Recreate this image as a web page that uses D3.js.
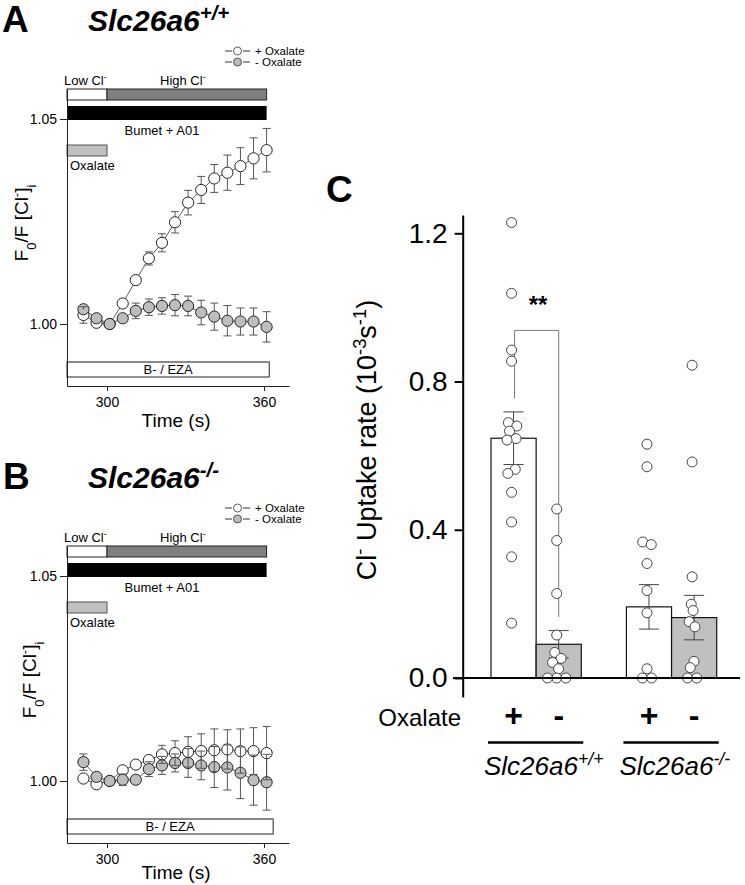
<!DOCTYPE html>
<html>
<head>
<meta charset="utf-8">
<script src="https://cdn.jsdelivr.net/npm/d3@7"></script>
<style>
  body { margin: 0; background: #fff; }
  svg { font-family: Arial, "Liberation Sans", sans-serif; }
</style>
</head>
<body>
<svg id="fig" width="745" height="885"></svg>
<script>
// ---- data: time courses (A, B) ----
const times = [291, 296, 301, 306, 311, 316, 321, 326, 331, 336, 341, 346, 351, 356, 361];
const timeTicks = [300, 360];
const ratioTicks = [1.00, 1.05];

const wtPlusMean  = [1.0022, 1.0003, 1.0000, 1.0050, 1.0107, 1.0160, 1.0198, 1.0248, 1.0296, 1.0327, 1.0355, 1.0369, 1.0385, 1.0404, 1.0424];
const wtPlusSem   = [0.0020, 0.0012, 0.0006, 0.0010, 0.0010, 0.0016, 0.0022, 0.0026, 0.0030, 0.0033, 0.0034, 0.0043, 0.0045, 0.0050, 0.0053];
const wtMinusMean = [1.0036, 1.0014, 1.0000, 1.0014, 1.0032, 1.0041, 1.0044, 1.0046, 1.0044, 1.0028, 1.0018, 1.0008, 1.0006, 1.0006, 0.9993];
const wtMinusSem  = [0.0012, 0.0012, 0.0004, 0.0010, 0.0019, 0.0020, 0.0020, 0.0026, 0.0024, 0.0030, 0.0033, 0.0037, 0.0033, 0.0033, 0.0037];

const koPlusMean  = [1.0006, 0.9992, 1.0000, 1.0026, 1.0040, 1.0051, 1.0065, 1.0068, 1.0071, 1.0073, 1.0075, 1.0077, 1.0073, 1.0073, 1.0068];
const koPlusSem   = [0.0008, 0.0008, 0.0004, 0.0012, 0.0008, 0.0011, 0.0022, 0.0030, 0.0037, 0.0042, 0.0052, 0.0048, 0.0054, 0.0057, 0.0065];
const koMinusMean = [1.0046, 1.0010, 1.0000, 1.0003, 1.0003, 1.0029, 1.0038, 1.0044, 1.0044, 1.0038, 1.0034, 1.0033, 1.0020, 1.0002, 0.9997];
const koMinusSem  = [0.0020, 0.0012, 0.0004, 0.0014, 0.0008, 0.0018, 0.0022, 0.0022, 0.0035, 0.0035, 0.0050, 0.0055, 0.0063, 0.0061, 0.0068];

// ---- data: uptake rates (C) ----
const genotypes = ["+/+", "-/-"];
const oxalateConds = ["+", "-"];
const rateTicks = [0, 0.4, 0.8, 1.2];
const barMeans = [0.647, 0.091, 0.192, 0.163];
const barSems  = [0.071, 0.037, 0.060, 0.060];
const wtOxPts   = [1.229, 1.038, 0.885, 0.855, 0.689, 0.680, 0.666, 0.646, 0.642, 0.563, 0.552, 0.501, 0.421, 0.327, 0.148];
const wtNoOxPts = [0.456, 0.371, 0.228, 0.116, 0.069, 0.053, 0.042, 0.025, 0, 0, 0];
const koOxPts   = [0.631, 0.570, 0.367, 0.360, 0.309, 0.236, 0.176, 0.025, 0, 0];
const koNoOxPts = [0.844, 0.583, 0.273, 0.199, 0.182, 0.152, 0.138, 0.045, 0.028, 0, 0];

const svg = d3.select("#fig");

// text with sub/superscripts
function rich(sel, parts, size) {
	parts.forEach(p => {
		const ts = sel.append("tspan").text(p.t);
		if (p.sup) ts.attr("font-size", size * 0.68).attr("baseline-shift", "super");
		if (p.sub) ts.attr("font-size", size * 0.68).attr("baseline-shift", "sub");
	});
	return sel;
}

function drawTrace(cfg) {
	const g = svg.append("g").attr("transform", `translate(0,${cfg.dy})`);

	const x = d3.scaleLinear().domain([300, 360]).range([107, 264]);
	x.domain([x.invert(67), x.invert(289)]).range([67, 289]);
	const y = d3.scaleLinear().domain([1.00, 1.05]).range([324, 119]);
	y.domain([y.invert(386), y.invert(89)]).range([386, 89]);
	const x0 = x.domain()[0];

	// panel letter + title
	g.append("text").attr("x", cfg.letterX).attr("y", 32).attr("font-size", 37)
		.attr("font-weight", "bold").text(cfg.letter);
	rich(g.append("text").attr("x", 88).attr("y", 31).attr("font-size", 30)
		.attr("font-weight", "bold").attr("font-style", "italic"),
		[{t: "Slc26a6"}, {t: cfg.geno, sup: true}], 30);

	// legend
	const legend = [{label: "+ Oxalate", fill: "#fff"}, {label: "- Oxalate", fill: "#bdbdbd"}];
	legend.forEach((l, i) => {
		const ly = 51 + i * 11;
		g.append("line").attr("x1", 225).attr("x2", 232).attr("y1", ly).attr("y2", ly).attr("stroke", "#333");
		g.append("line").attr("x1", 243).attr("x2", 250).attr("y1", ly).attr("y2", ly).attr("stroke", "#333");
		g.append("circle").attr("cx", 237.5).attr("cy", ly).attr("r", 4)
			.attr("fill", l.fill).attr("stroke", "#333").attr("stroke-width", 0.8);
		g.append("text").attr("x", 255).attr("y", ly).attr("dy", "0.36em")
			.attr("font-size", 11.5).text(l.label);
	});

	// solution bars
	const barTxt = 13;
	rich(g.append("text").attr("x", x(x0) - 3).attr("y", 85).attr("font-size", barTxt),
		[{t: "Low Cl"}, {t: "-", sup: true}], barTxt);
	rich(g.append("text").attr("x", 160).attr("y", 85).attr("font-size", barTxt),
		[{t: "High Cl"}, {t: "-", sup: true}], barTxt);
	g.append("rect").attr("x", x(x0)).attr("y", 89).attr("width", x(300) - x(x0)).attr("height", 11)
		.attr("fill", "#fff").attr("stroke", "#222");
	g.append("rect").attr("x", x(300)).attr("y", 89).attr("width", x(361) - x(300)).attr("height", 11)
		.attr("fill", "#7f7f7f").attr("stroke", "#222");
	g.append("rect").attr("x", x(x0)).attr("y", 106).attr("width", x(361) - x(x0)).attr("height", 14)
		.attr("fill", "#000");
	g.append("text").attr("x", 162).attr("y", 135).attr("text-anchor", "middle")
		.attr("font-size", barTxt).text("Bumet + A01");
	g.append("rect").attr("x", x(x0)).attr("y", 145).attr("width", x(300) - x(x0)).attr("height", 11)
		.attr("fill", "#c0c0c0").attr("stroke", "#555");
	g.append("text").attr("x", x(x0) + 3).attr("y", 170).attr("font-size", barTxt).text("Oxalate");
	g.append("rect").attr("x", x(x0)).attr("y", 362).attr("width", x(cfg.ezaEnd) - x(x0)).attr("height", 15)
		.attr("fill", "#fff").attr("stroke", "#222");
	g.append("line").attr("x1", x(x0)).attr("x2", x(cfg.ezaEnd)).attr("y1", 362).attr("y2", 362)
		.attr("stroke", "#888").attr("stroke-width", 2);
	g.append("text").attr("x", (x(x0) + x(cfg.ezaEnd)) / 2).attr("y", 374).attr("text-anchor", "middle")
		.attr("font-size", barTxt).text("B- / EZA");

	// axes
	const yAxis = g.append("g").attr("transform", "translate(67,0)")
		.call(d3.axisLeft(y).tickValues(ratioTicks).tickFormat(d3.format(".2f")).tickSize(7).tickSizeOuter(0).tickPadding(3));
	const xAxis = g.append("g").attr("transform", "translate(0,386)")
		.call(d3.axisBottom(x).tickValues(timeTicks).tickSize(5).tickSizeOuter(0).tickPadding(6));
	[yAxis, xAxis].forEach(a => {
		a.selectAll("text").attr("font-size", 14).attr("font-family", null).attr("fill", "#000");
		a.selectAll("path, line").attr("stroke", "#222");
	});

	g.append("text").attr("x", 176).attr("y", cfg.timeY).attr("text-anchor", "middle")
		.attr("font-size", 19).text("Time (s)");
	rich(g.append("text").attr("transform", `translate(${cfg.yLabX},223) rotate(-90)`)
		.attr("text-anchor", "middle").attr("font-size", 19),
		[{t: "F"}, {t: "0", sub: true}, {t: "/F [Cl"}, {t: "-", sup: true}, {t: "]"}, {t: "i", sub: true}], 19);

	// series
	const r = 5.6;
	const series = [
		{mean: cfg.plus, sem: cfg.plusSem, fill: "#fff"},
		{mean: cfg.minus, sem: cfg.minusSem, fill: "#bdbdbd"}
	];
	const line = d3.line().x((d, i) => x(times[i])).y(d => y(d));
	series.forEach(s => {
		g.append("path").datum(s.mean).attr("d", line)
			.attr("fill", "none").attr("stroke", "#333").attr("stroke-width", 0.8);
		g.selectAll(null).data(s.mean).enter().append("circle")
			.attr("cx", (d, i) => x(times[i])).attr("cy", d => y(d)).attr("r", r)
			.attr("fill", s.fill).attr("stroke", "#222").attr("stroke-width", 1);
	});
	// error bars on top, starting from marker edge
	series.forEach(s => {
		s.mean.forEach((m, i) => {
			const cx = x(times[i]);
			const dpx = y(m) - y(m + s.sem[i]);
			if (dpx <= r) return;
			[-1, 1].forEach(sgn => {
				const ye = y(m) + sgn * dpx;
				g.append("line").attr("x1", cx).attr("x2", cx)
					.attr("y1", y(m) + sgn * r).attr("y2", ye).attr("stroke", "#555");
				g.append("line").attr("x1", cx - 4).attr("x2", cx + 4)
					.attr("y1", ye).attr("y2", ye).attr("stroke", "#555");
			});
		});
	});
}

drawTrace({dy: 0, letter: "A", letterX: 2, geno: "+/+", ezaEnd: 362, timeY: 427, yLabX: 28,
	plus: wtPlusMean, plusSem: wtPlusSem, minus: wtMinusMean, minusSem: wtMinusSem});
drawTrace({dy: 457, letter: "B", letterX: 3, geno: "-/-", ezaEnd: 363.5, timeY: 422, yLabX: 36,
	plus: koPlusMean, plusSem: koPlusSem, minus: koMinusMean, minusSem: koMinusSem});

// ---- panel C ----
const c = svg.append("g");
const yC = d3.scaleLinear().domain([0, 1.2]).range([678, 233.3]);
yC.domain([yC.invert(697), yC.invert(215)]).range([697, 215]);
const xGroup = d3.scaleBand().domain(genotypes).range([491, 716.7]).paddingInner(1 / 3);
const xCond = d3.scaleBand().domain(oxalateConds).range([0, xGroup.bandwidth()]);
const bars = barMeans.map((m, i) => ({
	geno: genotypes[Math.floor(i / 2)], cond: oxalateConds[i % 2], mean: m, sem: barSems[i],
	pts: [wtOxPts, wtNoOxPts, koOxPts, koNoOxPts][i]
}));
const barX = b => xGroup(b.geno) + xCond(b.cond);
const barCx = b => barX(b) + xCond.bandwidth() / 2;

c.append("text").attr("x", 326).attr("y", 202).attr("font-size", 37).attr("font-weight", "bold").text("C");

c.selectAll(null).data(bars).enter().append("rect")
	.attr("x", barX).attr("width", xCond.bandwidth())
	.attr("y", b => yC(b.mean)).attr("height", b => yC(0) - yC(b.mean))
	.attr("fill", b => b.cond === "+" ? "#fff" : "#c0c0c0")
	.attr("stroke", "#111").attr("stroke-width", 1.2);

// significance bracket
const sig = {y: 0.938, left: 0.755, right: 0.165};
c.append("path")
	.attr("d", `M${barCx(bars[0]) + 1},${yC(sig.left)}V${yC(sig.y)}H${barCx(bars[1])}V${yC(sig.right)}`)
	.attr("fill", "none").attr("stroke", "#777").attr("stroke-width", 1);
c.append("text").attr("x", 538).attr("y", 313).attr("text-anchor", "middle")
	.attr("font-size", 24).attr("font-weight", "bold").text("**");

// error bars
bars.forEach(b => {
	const cx = barCx(b);
	c.append("line").attr("x1", cx).attr("x2", cx)
		.attr("y1", yC(b.mean - b.sem)).attr("y2", yC(b.mean + b.sem)).attr("stroke", "#444");
	[b.mean - b.sem, b.mean + b.sem].forEach(v => {
		c.append("line").attr("x1", cx - 10).attr("x2", cx + 10)
			.attr("y1", yC(v)).attr("y2", yC(v)).attr("stroke", "#444");
	});
});

// individual points, spread with a small collide force
bars.forEach(b => {
	const cx = barCx(b) - 2;
	const nodes = b.pts.map(v => ({v, x: cx, y: yC(v)}));
	const sim = d3.forceSimulation(nodes)
		.force("x", d3.forceX(cx).strength(0.25))
		.force("y", d3.forceY(d => yC(d.v)).strength(1))
		.force("collide", d3.forceCollide(4.6))
		.stop();
	for (let i = 0; i < 200; i++) sim.tick();
	c.selectAll(null).data(nodes).enter().append("circle")
		.attr("cx", d => d.x).attr("cy", d => yC(d.v)).attr("r", 5)
		.attr("fill", "#fff").attr("stroke", "#444").attr("stroke-width", 1);
});

// axes
c.append("line").attr("x1", 453).attr("x2", 740).attr("y1", yC(0)).attr("y2", yC(0))
	.attr("stroke", "#000").attr("stroke-width", 2);
const yAxisC = c.append("g").attr("transform", "translate(462.7,0)")
	.call(d3.axisLeft(yC).tickValues(rateTicks).tickFormat(d3.format(".1f")).tickSize(8).tickSizeOuter(0).tickPadding(7));
yAxisC.selectAll("path, line").attr("stroke", "#000").attr("stroke-width", 2);
yAxisC.selectAll("text").attr("font-size", 28).attr("font-family", null).attr("fill", "#000");

rich(c.append("text").attr("transform", "translate(376,440) rotate(-90)")
	.attr("text-anchor", "middle").attr("font-size", 27),
	[{t: "Cl"}, {t: "-", sup: true}, {t: " Uptake rate (10"}, {t: "-3", sup: true}, {t: "s"}, {t: "-1", sup: true}, {t: ")"}], 27);

// oxalate row and genotype labels
c.append("text").attr("x", 461).attr("y", 726).attr("text-anchor", "end").attr("font-size", 24).text("Oxalate");
c.selectAll(null).data(bars).enter().append("text")
	.attr("x", barCx).attr("y", 726).attr("text-anchor", "middle")
	.attr("font-size", 32).attr("font-weight", "bold").text(b => b.cond);
genotypes.forEach(gn => {
	const x1 = xGroup(gn) - 3, x2 = xGroup(gn) + xGroup.bandwidth() + 2;
	c.append("line").attr("x1", x1).attr("x2", x2).attr("y1", 742.5).attr("y2", 742.5)
		.attr("stroke", "#000").attr("stroke-width", 2.5);
	rich(c.append("text").attr("x", x1 - 4).attr("y", 775).attr("font-size", 26).attr("font-style", "italic"),
		[{t: "Slc26a6"}, {t: gn, sup: true}], 26);
});
</script>
</body>
</html>
